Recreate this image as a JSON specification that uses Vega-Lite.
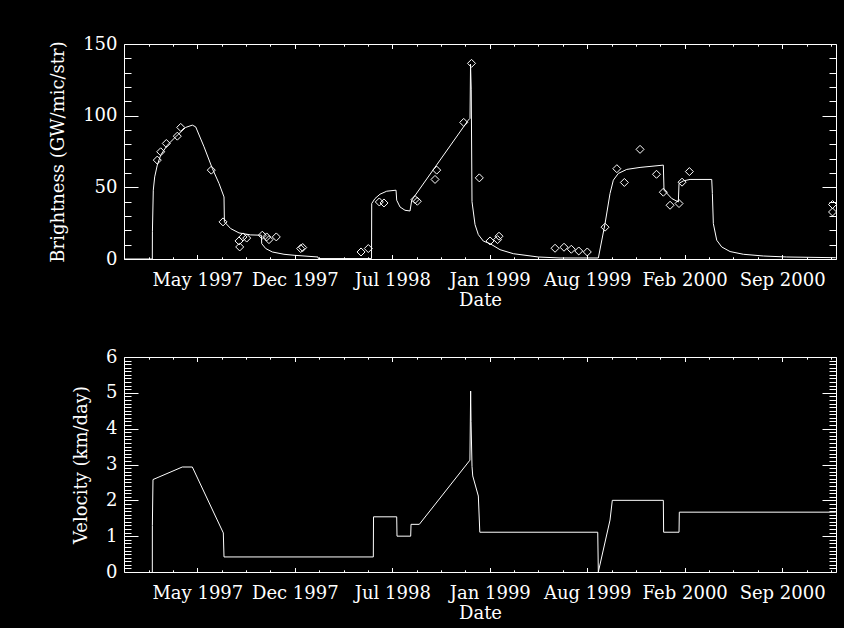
{
  "$schema": "https://vega.github.io/schema/vega-lite/v6.json",
  "background": "black",
  "padding": {"left": 49, "top": 35, "right": 5, "bottom": 5},
  "spacing": 38,
  "datasets": {
    "brightness_model": [
      {"jd": 2450449.5, "brightness": 0}, {"jd": 2450507.6, "brightness": 0}, {"jd": 2450507.8, "brightness": 19},
      {"jd": 2450509.6, "brightness": 48}, {"jd": 2450512.5, "brightness": 57.3}, {"jd": 2450517.8, "brightness": 65.5},
      {"jd": 2450524.8, "brightness": 72.5}, {"jd": 2450538.4, "brightness": 79.4}, {"jd": 2450558.9, "brightness": 86.4},
      {"jd": 2450576.1, "brightness": 91.8}, {"jd": 2450589.7, "brightness": 93.4}, {"jd": 2450596.6, "brightness": 92.2},
      {"jd": 2450613.7, "brightness": 78.3}, {"jd": 2450630.7, "brightness": 63.2}, {"jd": 2450644.5, "brightness": 52.7},
      {"jd": 2450654.7, "brightness": 43.3}, {"jd": 2450655.5, "brightness": 25.9}, {"jd": 2450668.5, "brightness": 21.2},
      {"jd": 2450685.5, "brightness": 18.2}, {"jd": 2450709.5, "brightness": 16.8}, {"jd": 2450731.3, "brightness": 16.6},
      {"jd": 2450732.1, "brightness": 10.7}, {"jd": 2450740.3, "brightness": 7.3}, {"jd": 2450753.8, "brightness": 4.9},
      {"jd": 2450777.8, "brightness": 3.3}, {"jd": 2450798.4, "brightness": 2.6}, {"jd": 2450847.6, "brightness": 1.4},
      {"jd": 2450848.2, "brightness": 0.3}, {"jd": 2450957.4, "brightness": 0.3}, {"jd": 2450957.8, "brightness": 38.7},
      {"jd": 2450964.6, "brightness": 42.2}, {"jd": 2450974.8, "brightness": 45.2}, {"jd": 2450988.6, "brightness": 47.3},
      {"jd": 2451007.7, "brightness": 48}, {"jd": 2451009.1, "brightness": 41}, {"jd": 2451015.9, "brightness": 36.3},
      {"jd": 2451026.1, "brightness": 34}, {"jd": 2451036.4, "brightness": 33.5}, {"jd": 2451039.9, "brightness": 41},
      {"jd": 2451156.0, "brightness": 96.9}, {"jd": 2451159.5, "brightness": 98.1}, {"jd": 2451160.6, "brightness": 136},
      {"jd": 2451162.0, "brightness": 118}, {"jd": 2451163.6, "brightness": 40}, {"jd": 2451169.8, "brightness": 24},
      {"jd": 2451176.6, "brightness": 17}, {"jd": 2451186.8, "brightness": 12.5}, {"jd": 2451200.6, "brightness": 10.7},
      {"jd": 2451221.1, "brightness": 6.5}, {"jd": 2451248.4, "brightness": 3.7}, {"jd": 2451299.7, "brightness": 1.4},
      {"jd": 2451344.2, "brightness": 0.7}, {"jd": 2451422.8, "brightness": 0.7}, {"jd": 2451436.6, "brightness": 24.7},
      {"jd": 2451446.8, "brightness": 45.7}, {"jd": 2451453.6, "brightness": 55}, {"jd": 2451463.9, "brightness": 59.7},
      {"jd": 2451481.1, "brightness": 62.5}, {"jd": 2451508.4, "brightness": 63.9}, {"jd": 2451556.2, "brightness": 65.5},
      {"jd": 2451557.6, "brightness": 48}, {"jd": 2451573.4, "brightness": 42.2}, {"jd": 2451587.0, "brightness": 39.8},
      {"jd": 2451588.4, "brightness": 52.7}, {"jd": 2451597.2, "brightness": 54.5}, {"jd": 2451611.0, "brightness": 55.5},
      {"jd": 2451655.5, "brightness": 55.5}, {"jd": 2451656.8, "brightness": 45.7}, {"jd": 2451658.8, "brightness": 24.7},
      {"jd": 2451665.8, "brightness": 13.1}, {"jd": 2451676.0, "brightness": 8.4}, {"jd": 2451693.1, "brightness": 5.2},
      {"jd": 2451720.4, "brightness": 3.3}, {"jd": 2451761.4, "brightness": 2.1}, {"jd": 2451809.4, "brightness": 1.4},
      {"jd": 2451910.0, "brightness": 0.9}
    ],
    "brightness_obs": [
      {"jd": 2450517.8, "brightness": 69.0}, {"jd": 2450524.8, "brightness": 74.8}, {"jd": 2450536.3, "brightness": 80.6},
      {"jd": 2450558.9, "brightness": 85.7}, {"jd": 2450565.9, "brightness": 91.8}, {"jd": 2450628.6, "brightness": 62.0},
      {"jd": 2450652.7, "brightness": 25.9}, {"jd": 2450685.5, "brightness": 12.6}, {"jd": 2450686.9, "brightness": 8.4},
      {"jd": 2450693.7, "brightness": 15.4}, {"jd": 2450701.3, "brightness": 14.6}, {"jd": 2450733.3, "brightness": 16.6},
      {"jd": 2450742.3, "brightness": 15.4}, {"jd": 2450747.0, "brightness": 13.5}, {"jd": 2450762.0, "brightness": 15.4},
      {"jd": 2450812.1, "brightness": 7.3}, {"jd": 2450816.2, "brightness": 8.0}, {"jd": 2450935.9, "brightness": 4.9},
      {"jd": 2450950.8, "brightness": 7.3}, {"jd": 2450973.4, "brightness": 39.8}, {"jd": 2450983.0, "brightness": 39.1},
      {"jd": 2451046.7, "brightness": 41.5}, {"jd": 2451051.4, "brightness": 40.3}, {"jd": 2451087.7, "brightness": 55.5},
      {"jd": 2451091.2, "brightness": 62.0}, {"jd": 2451146.6, "brightness": 95.3}, {"jd": 2451162.6, "brightness": 136.5},
      {"jd": 2451178.6, "brightness": 56.6}, {"jd": 2451200.6, "brightness": 12.6}, {"jd": 2451216.0, "brightness": 13.5},
      {"jd": 2451219.0, "brightness": 15.9}, {"jd": 2451334.0, "brightness": 7.5}, {"jd": 2451352.4, "brightness": 8.2},
      {"jd": 2451367.4, "brightness": 6.8}, {"jd": 2451382.6, "brightness": 5.6}, {"jd": 2451400.2, "brightness": 4.9},
      {"jd": 2451436.6, "brightness": 22.2}, {"jd": 2451460.8, "brightness": 63.0}, {"jd": 2451476.2, "brightness": 53.4},
      {"jd": 2451508.4, "brightness": 76.5}, {"jd": 2451542.2, "brightness": 59.1}, {"jd": 2451556.2, "brightness": 46.6},
      {"jd": 2451570.0, "brightness": 37.5}, {"jd": 2451588.4, "brightness": 38.7}, {"jd": 2451594.6, "brightness": 53.6},
      {"jd": 2451609.6, "brightness": 61.0}, {"jd": 2451903.4, "brightness": 38.0}, {"jd": 2451903.4, "brightness": 32.8}
    ],
    "velocity": [
      {"jd": 2450507.6, "velocity": 0}, {"jd": 2450507.7, "velocity": 1.3}, {"jd": 2450509.0, "velocity": 2.58},
      {"jd": 2450569.1, "velocity": 2.93}, {"jd": 2450589.7, "velocity": 2.93}, {"jd": 2450653.3, "velocity": 1.09},
      {"jd": 2450654.7, "velocity": 0.42}, {"jd": 2450961.1, "velocity": 0.42}, {"jd": 2450961.5, "velocity": 1.54},
      {"jd": 2451009.1, "velocity": 1.54}, {"jd": 2451009.7, "velocity": 1.0}, {"jd": 2451037.8, "velocity": 1.0},
      {"jd": 2451038.5, "velocity": 1.33}, {"jd": 2451055.5, "velocity": 1.33}, {"jd": 2451159.3, "velocity": 3.12},
      {"jd": 2451160.8, "velocity": 5.05}, {"jd": 2451161.6, "velocity": 4.2}, {"jd": 2451163.6, "velocity": 2.95},
      {"jd": 2451165.1, "velocity": 2.68}, {"jd": 2451176.6, "velocity": 2.12}, {"jd": 2451179.6, "velocity": 1.11},
      {"jd": 2451421.6, "velocity": 1.11}, {"jd": 2451422.8, "velocity": 0}, {"jd": 2451446.8, "velocity": 1.45},
      {"jd": 2451451.5, "velocity": 2.0}, {"jd": 2451556.2, "velocity": 2.0}, {"jd": 2451556.8, "velocity": 1.11},
      {"jd": 2451588.4, "velocity": 1.11}, {"jd": 2451589.0, "velocity": 1.67}, {"jd": 2451910.0, "velocity": 1.67}
    ]
  },
  "vconcat": [
    {
      "width": 712,
      "height": 215,
      "resolve": {"axis": {"x": "independent", "y": "independent"}},
      "layer": [
        {
          "data": {"name": "brightness_model"},
          "mark": {"type": "line", "color": "white", "strokeWidth": 1},
          "encoding": {
            "x": {"field": "jd", "type": "quantitative",
              "scale": {"domain": [2450449.5, 2451910.5], "nice": false, "zero": false},
              "axis": {
                "orient": "bottom",
                "values": [2450600, 2450800, 2451000, 2451200, 2451400, 2451600, 2451800],
                "tickSize": -4.5,
                "labelExpr": "utcFormat((datum.value - 2440587.5) * 86400000, '%b %Y')",
                "labelPadding": 17,
                "title": "Date",
                "titlePadding": 2
              }
            },
            "y": {"field": "brightness", "type": "quantitative",
              "scale": {"domain": [0, 150], "nice": false},
              "axis": {
                "orient": "left",
                "values": [0, 50, 100, 150],
                "tickSize": -14,
                "labelExpr": "'' + datum.value",
                "labelPadding": 21,
                "title": "Brightness (GW/mic/str)",
                "titlePadding": 15
              }
            }
          }
        },
        {
          "data": {"name": "brightness_obs"},
          "mark": {"type": "point", "shape": "diamond", "filled": false, "size": 64, "stroke": "white", "strokeWidth": 1, "opacity": 1},
          "encoding": {
            "x": {"field": "jd", "type": "quantitative",
              "scale": {"domain": [2450449.5, 2451910.5], "nice": false, "zero": false},
              "axis": {
                "orient": "bottom",
                "values": [2450500, 2450550, 2450650, 2450700, 2450750, 2450850, 2450900, 2450950, 2451050, 2451100, 2451150, 2451250, 2451300, 2451350, 2451450, 2451500, 2451550, 2451650, 2451700, 2451750, 2451850, 2451900],
                "tickSize": -2.2,
                "labels": false,
                "domain": false,
                "title": null
              }
            },
            "y": {"field": "brightness", "type": "quantitative",
              "scale": {"domain": [0, 150], "nice": false},
              "axis": {
                "orient": "left",
                "values": [10, 20, 30, 40, 60, 70, 80, 90, 110, 120, 130, 140],
                "tickSize": -7,
                "labels": false,
                "domain": false,
                "title": null
              }
            }
          }
        },
        {
          "data": {"name": "brightness_model"},
          "mark": {"type": "line", "color": "white", "strokeWidth": 1, "strokeOpacity": 0},
          "encoding": {
            "x": {"field": "jd", "type": "quantitative",
              "scale": {"domain": [2450449.5, 2451910.5], "nice": false, "zero": false},
              "axis": {
                "orient": "top",
                "values": [2450600, 2450800, 2451000, 2451200, 2451400, 2451600, 2451800],
                "tickSize": -4.5,
                "labels": false,
                "title": null
              }
            },
            "y": {"field": "brightness", "type": "quantitative",
              "scale": {"domain": [0, 150], "nice": false},
              "axis": {
                "orient": "right",
                "values": [0, 50, 100, 150],
                "tickSize": -14,
                "labels": false,
                "title": null
              }
            }
          }
        },
        {
          "data": {"name": "brightness_model"},
          "mark": {"type": "line", "color": "white", "strokeWidth": 1, "strokeOpacity": 0},
          "encoding": {
            "x": {"field": "jd", "type": "quantitative",
              "scale": {"domain": [2450449.5, 2451910.5], "nice": false, "zero": false},
              "axis": {
                "orient": "top",
                "values": [2450500, 2450550, 2450650, 2450700, 2450750, 2450850, 2450900, 2450950, 2451050, 2451100, 2451150, 2451250, 2451300, 2451350, 2451450, 2451500, 2451550, 2451650, 2451700, 2451750, 2451850, 2451900],
                "tickSize": -2.2,
                "labels": false,
                "domain": false,
                "title": null
              }
            },
            "y": {"field": "brightness", "type": "quantitative",
              "scale": {"domain": [0, 150], "nice": false},
              "axis": {
                "orient": "right",
                "values": [10, 20, 30, 40, 60, 70, 80, 90, 110, 120, 130, 140],
                "tickSize": -7,
                "labels": false,
                "domain": false,
                "title": null
              }
            }
          }
        }
      ]
    },
    {
      "width": 712,
      "height": 215,
      "data": {"name": "velocity"},
      "resolve": {"axis": {"x": "independent", "y": "independent"}},
      "layer": [
        {
          "mark": {"type": "line", "color": "white", "strokeWidth": 1},
          "encoding": {
            "x": {"field": "jd", "type": "quantitative",
              "scale": {"domain": [2450449.5, 2451910.5], "nice": false, "zero": false},
              "axis": {
                "orient": "bottom",
                "values": [2450600, 2450800, 2451000, 2451200, 2451400, 2451600, 2451800],
                "tickSize": -4.5,
                "labelExpr": "utcFormat((datum.value - 2440587.5) * 86400000, '%b %Y')",
                "labelPadding": 17,
                "title": "Date",
                "titlePadding": 2
              }
            },
            "y": {"field": "velocity", "type": "quantitative",
              "scale": {"domain": [0, 6], "nice": false},
              "axis": {
                "orient": "left",
                "values": [0, 1, 2, 3, 4, 5, 6],
                "tickSize": -14,
                "labelExpr": "'' + round(datum.value)",
                "labelPadding": 21,
                "title": "Velocity (km/day)",
                "titlePadding": 15
              }
            }
          }
        },
        {
          "mark": {"type": "line", "color": "white", "strokeWidth": 1, "strokeOpacity": 0},
          "encoding": {
            "x": {"field": "jd", "type": "quantitative",
              "scale": {"domain": [2450449.5, 2451910.5], "nice": false, "zero": false},
              "axis": {
                "orient": "bottom",
                "values": [2450500, 2450550, 2450650, 2450700, 2450750, 2450850, 2450900, 2450950, 2451050, 2451100, 2451150, 2451250, 2451300, 2451350, 2451450, 2451500, 2451550, 2451650, 2451700, 2451750, 2451850, 2451900],
                "tickSize": -2.2,
                "labels": false,
                "domain": false,
                "title": null
              }
            },
            "y": {"field": "velocity", "type": "quantitative",
              "scale": {"domain": [0, 6], "nice": false},
              "axis": {
                "orient": "left",
                "values": [0.1, 0.2, 0.3, 0.4, 0.5, 0.6, 0.7, 0.8, 0.9, 1.1, 1.2, 1.3, 1.4, 1.5, 1.6, 1.7, 1.8, 1.9, 2.1, 2.2, 2.3, 2.4, 2.5, 2.6, 2.7, 2.8, 2.9, 3.1, 3.2, 3.3, 3.4, 3.5, 3.6, 3.7, 3.8, 3.9, 4.1, 4.2, 4.3, 4.4, 4.5, 4.6, 4.7, 4.8, 4.9, 5.1, 5.2, 5.3, 5.4, 5.5, 5.6, 5.7, 5.8, 5.9],
                "tickSize": -7,
                "labels": false,
                "domain": false,
                "title": null
              }
            }
          }
        },
        {
          "mark": {"type": "line", "color": "white", "strokeWidth": 1, "strokeOpacity": 0},
          "encoding": {
            "x": {"field": "jd", "type": "quantitative",
              "scale": {"domain": [2450449.5, 2451910.5], "nice": false, "zero": false},
              "axis": {
                "orient": "top",
                "values": [2450600, 2450800, 2451000, 2451200, 2451400, 2451600, 2451800],
                "tickSize": -4.5,
                "labels": false,
                "title": null
              }
            },
            "y": {"field": "velocity", "type": "quantitative",
              "scale": {"domain": [0, 6], "nice": false},
              "axis": {
                "orient": "right",
                "values": [0, 1, 2, 3, 4, 5, 6],
                "tickSize": -14,
                "labels": false,
                "title": null
              }
            }
          }
        },
        {
          "mark": {"type": "line", "color": "white", "strokeWidth": 1, "strokeOpacity": 0},
          "encoding": {
            "x": {"field": "jd", "type": "quantitative",
              "scale": {"domain": [2450449.5, 2451910.5], "nice": false, "zero": false},
              "axis": {
                "orient": "top",
                "values": [2450500, 2450550, 2450650, 2450700, 2450750, 2450850, 2450900, 2450950, 2451050, 2451100, 2451150, 2451250, 2451300, 2451350, 2451450, 2451500, 2451550, 2451650, 2451700, 2451750, 2451850, 2451900],
                "tickSize": -2.2,
                "labels": false,
                "domain": false,
                "title": null
              }
            },
            "y": {"field": "velocity", "type": "quantitative",
              "scale": {"domain": [0, 6], "nice": false},
              "axis": {
                "orient": "right",
                "values": [0.1, 0.2, 0.3, 0.4, 0.5, 0.6, 0.7, 0.8, 0.9, 1.1, 1.2, 1.3, 1.4, 1.5, 1.6, 1.7, 1.8, 1.9, 2.1, 2.2, 2.3, 2.4, 2.5, 2.6, 2.7, 2.8, 2.9, 3.1, 3.2, 3.3, 3.4, 3.5, 3.6, 3.7, 3.8, 3.9, 4.1, 4.2, 4.3, 4.4, 4.5, 4.6, 4.7, 4.8, 4.9, 5.1, 5.2, 5.3, 5.4, 5.5, 5.6, 5.7, 5.8, 5.9],
                "tickSize": -7,
                "labels": false,
                "domain": false,
                "title": null
              }
            }
          }
        }
      ]
    }
  ],
  "config": {
    "view": {"stroke": null},
    "axis": {
      "domainColor": "white",
      "domainWidth": 1,
      "tickColor": "white",
      "tickWidth": 1,
      "ticks": true,
      "labelColor": "white",
      "titleColor": "white",
      "labelFont": "DejaVu Serif",
      "titleFont": "DejaVu Serif",
      "labelFontSize": 18,
      "titleFontSize": 18,
      "titleFontWeight": "normal",
      "grid": false,
      "labelOverlap": false,
      "labelFlush": false,
      "labelBound": false
    }
  }
}
